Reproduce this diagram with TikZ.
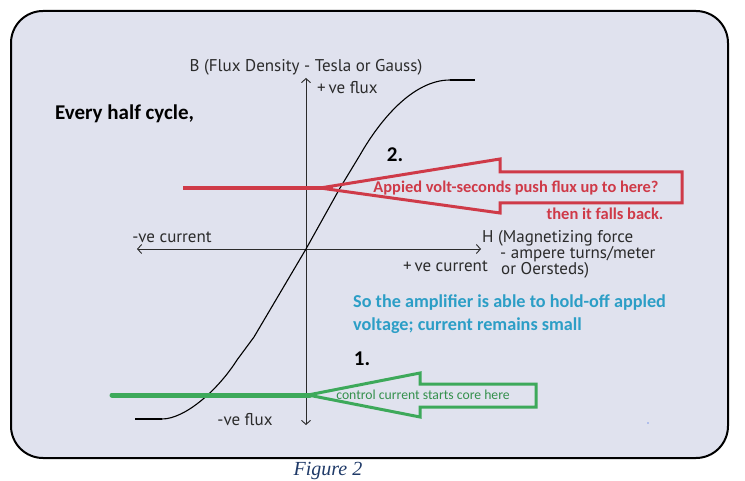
\documentclass[tikz,border=0pt]{standalone}
\usepackage{fontspec}
\usetikzlibrary{arrows.meta}
\newfontfamily\notefont{Carlito}
\newfontfamily\axisfont{PT Sans}
\newfontfamily\capfont{Liberation Serif}
\definecolor{panel-bg}{HTML}{E0E2EE}
\definecolor{axis-ink}{HTML}{2B2B2B}
\definecolor{push-red}{HTML}{CF3A48}
\definecolor{ctrl-green}{HTML}{3DA95A}
\definecolor{note-cyan}{HTML}{2C9EC6}
\definecolor{cap-blue}{HTML}{1F3A68}
\tikzset{
  axislabel/.style={font=\axisfont\fontsize{17}{19}\selectfont, text=axis-ink, inner sep=0pt},
  boldnote/.style={font=\notefont\bfseries\fontsize{21}{23}\selectfont, inner sep=0pt},
  axisline/.style={draw=axis-ink, line width=0.9pt,
    {Straight Barb[length=4pt,width=9pt]}-{Straight Barb[length=4pt,width=9pt]}},
  bhcurve/.style={draw=black, line width=1.1pt},
  fatarrow/.style={line width=3pt, line join=miter}
}

\begin{document}
\begin{tikzpicture}[x=1pt, y=-1pt]
  \useasboundingbox (0,0) rectangle (745,481);
  % panel
  \draw[line width=2pt, fill=panel-bg, rounded corners=32pt] (11,11) rectangle (728,458);
  % axes
  \coordinate (origin) at (306,249);
  \draw[axisline] (306,425) -- (306,78);
  \draw[axisline] (137,249) -- (481,249);
  % B-H curve with saturation flats
  \draw[line width=2.6pt] (135,419) -- (162,419);
  \draw[bhcurve] (162,419) .. controls (185,419) and (218,390) .. (237,360)
    -- (254,337) -- (origin) -- (340,188) -- (360,155)
    .. controls (380,120) and (413,80) .. (450,80);
  \draw[line width=2.6pt] (450,80) -- (475,80);
  % axis texts
  \node[axislabel] (blabel) at (306,67) {B (Flux Density - Tesla or Gauss)};
  \node[axislabel, anchor=west] (posflux) at (317,88) {+\,ve flux};
  \node[axislabel] (negcur) at (172,237) {-ve current};
  \node[axislabel, anchor=west] (hlabel) at (482,238) {H (Magnetizing force};
  \node[axislabel, anchor=west] (hunit) at (500,254) {- ampere turns/meter};
  \node[axislabel, anchor=west] (hoer) at (501,270) {or Oersteds)};
  \node[axislabel, anchor=east] (poscur) at (488,266) {+\,ve current};
  \node[axislabel] (negflux) at (245,420) {-ve flux};
  % notes
  \node[boldnote, anchor=west] (every) at (55,114) {Every half cycle,};
  \node[boldnote] (steptwo) at (395,155) {2.};
  \node[boldnote] (stepone) at (362,359) {1.};
  \node[font=\notefont\bfseries\fontsize{18.2}{20}\selectfont, text=note-cyan,
    anchor=west, inner sep=0pt] (holdoff) at (353,303) {So the amplifier is able to hold-off appled};
  \node[font=\notefont\bfseries\fontsize{18.2}{20}\selectfont, text=note-cyan,
    anchor=west, inner sep=0pt] (holdoff2) at (353,326) {voltage; current remains small};
  % step 2: red push arrow
  \draw[push-red, line width=4pt] (183,188) -- (333,188);
  \draw[fatarrow, draw=push-red] (320,188) -- (500,159) -- (500,172) -- (682,172)
    -- (682,203) -- (500,203) -- (500,213) -- cycle;
  \node[font=\notefont\bfseries\fontsize{16.4}{18}\selectfont, text=push-red,
    inner sep=0pt] (pushtxt) at (516,188) {Appied volt-seconds push flux up to here?};
  \node[font=\notefont\bfseries\fontsize{16.5}{18}\selectfont, text=push-red,
    inner sep=0pt] (fallback) at (605,214) {then it falls back.};
  % step 1: green control arrow
  \draw[ctrl-green, line width=5pt, line cap=round] (112,395) -- (310,395);
  \draw[fatarrow, draw=ctrl-green] (308,395) -- (420,373) -- (420,384) -- (536,384)
    -- (536,407) -- (420,407) -- (420,417) -- cycle;
  \node[font=\notefont\fontsize{13.7}{15}\selectfont, text=ctrl-green!85!black,
    inner sep=0pt] (ctrltxt) at (423,395) {control current starts core here};
  % speck and caption
  \fill[note-cyan!50!blue] (648,423) circle (0.7pt);
  \node[font=\capfont\itshape\fontsize{20}{21}\selectfont, text=cap-blue] (figcap) at (328,471) {Figure 2};
\end{tikzpicture}
\end{document}
